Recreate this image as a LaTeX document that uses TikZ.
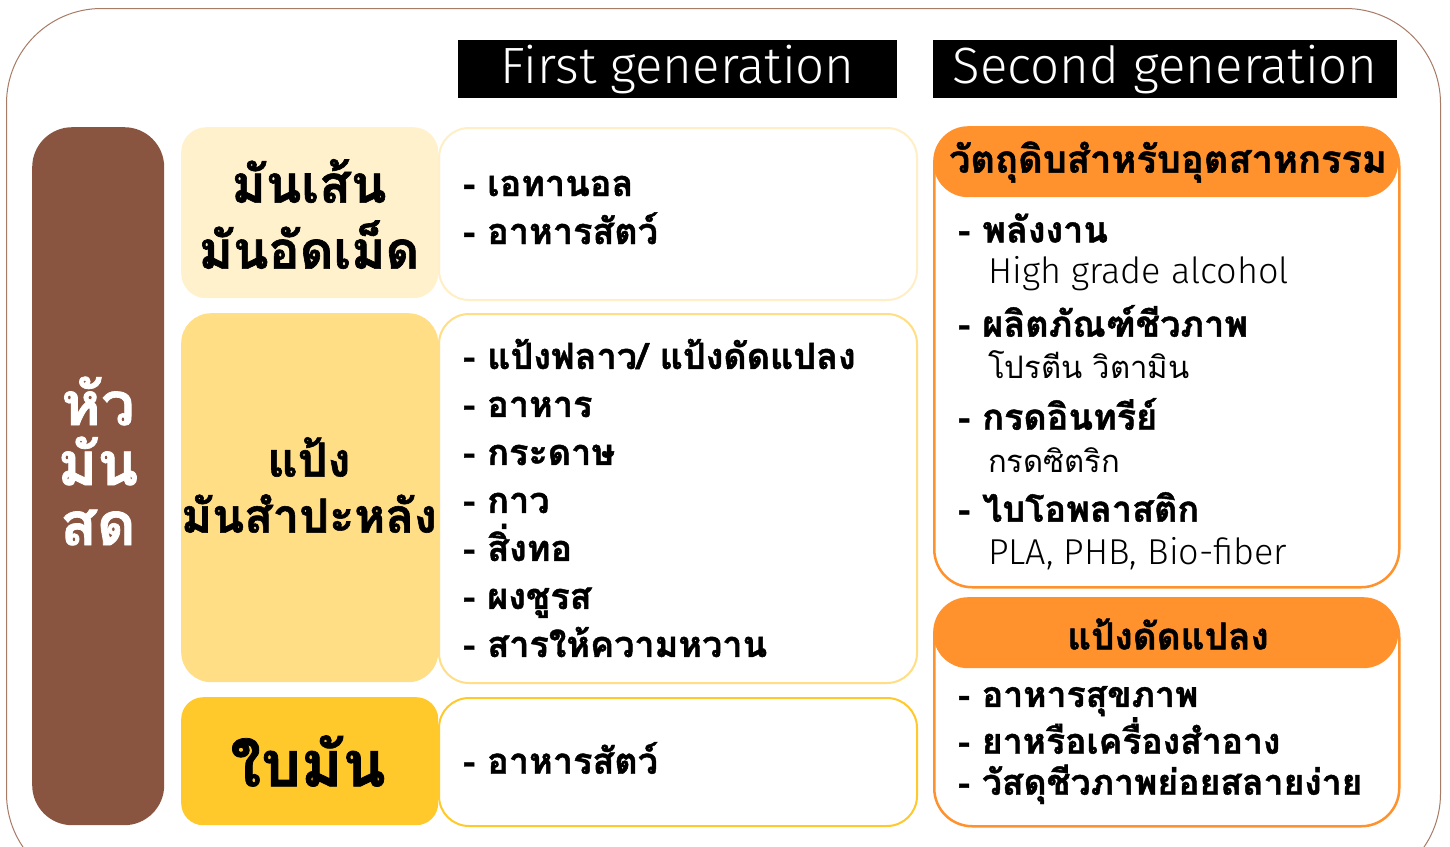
\documentclass[tikz,border=0pt]{standalone}
\usepackage{fontspec}
\newfontfamily\thai[Script=Thai,BoldFeatures={FakeBold=1.2}]{Loma}
\newfontfamily\lightf{Fira Sans Light}
\definecolor{outerbrown}{HTML}{A87B66}
\definecolor{barbrown}{HTML}{8A5540}
\definecolor{creamA}{HTML}{FFF1CC}
\definecolor{creamB}{HTML}{FFDE85}
\definecolor{creamC}{HTML}{FFC92B}
\definecolor{lineA}{HTML}{FFEFC6}
\definecolor{orangeH}{HTML}{FF922D}
\tikzset{
  box/.style={anchor=north west, inner sep=0pt, rounded corners=30pt},
  hdr/.style={box, fill=black, rounded corners=0pt},
  hdrtext/.style={text=white, font=\lightf\fontsize{51}{55}\selectfont},
  big/.style={font=\thai\bfseries\fontsize{44}{58}\selectfont, align=center},
  item/.style={font=\thai\bfseries\fontsize{36}{48}\selectfont, align=left, anchor=west, inner sep=0pt},
  sub/.style={font=\thai\fontsize{31}{40}\selectfont, anchor=west, inner sep=0pt},
  subl/.style={font=\lightf\fontsize{36}{40}\selectfont, anchor=west, inner sep=0pt},
  pilltext/.style={font=\thai\bfseries\fontsize{38}{40}\selectfont},
}
\begin{document}
\begin{tikzpicture}[x=1pt,y=-1pt]
\useasboundingbox (0,0) rectangle (1450,846);
\clip (0,0) rectangle (1450,846);
\fill[white] (0,0) rectangle (1450,846);
\node[box, draw=outerbrown, line width=1pt, rounded corners=95pt, minimum width=1434pt, minimum height=880pt] (outer) at (6,8) {};
% headers
\node[hdr, minimum width=439pt, minimum height=58pt] (h1) at (458,40) {};
\node[hdrtext] (h1t) at (h1.center) {First generation};
\node[hdr, minimum width=464pt, minimum height=58pt] (h2) at (933,40) {};
\node[hdrtext] (h2t) at (h2.center) {Second generation};
% brown bar
\node[box, fill=barbrown, rounded corners=40pt, minimum width=132pt, minimum height=698pt] (bar) at (32,127) {};
\node[big, text=white, font=\thai\bfseries\fontsize{60}{60}\selectfont] (bart) at (98,461) {หัว\\มัน\\สด};
% column 1
\node[box, fill=creamA, rounded corners=25pt, minimum width=257pt, minimum height=171pt] (r1) at (181,127) {};
\node[big, font=\thai\bfseries\fontsize{52}{66}\selectfont] (r1t) at (309,214) {มันเส้น\\มันอัดเม็ด};
\node[box, fill=creamB, rounded corners=30pt, minimum width=257pt, minimum height=369pt] (r2) at (181,313) {};
\node[big, font=\thai\bfseries\fontsize{47}{56}\selectfont] (r2t) at (309,485) {แป้ง\\มันสำปะหลัง};
\node[box, fill=creamC, rounded corners=22pt, minimum width=257pt, minimum height=128pt] (r3) at (181,697) {};
\node[big, font=\thai\bfseries\fontsize{63}{64}\selectfont] (r3t) at (308,761) {ใบมัน};
% column 2
\node[box, draw=lineA, line width=2pt, fill=white, minimum width=478pt, minimum height=172pt] (c1) at (438,127) {};
\node[item] (c1t) at (463,210) {- เอทานอล\\- อาหารสัตว์};
\node[box, draw=creamB, line width=2pt, fill=white, minimum width=478pt, minimum height=369pt] (c2) at (438,313) {};
\node[item] (c2t) at (463,498) {- แป้งฟลาว/ แป้งดัดแปลง\\- อาหาร\\- กระดาษ\\- กาว\\- สิ่งทอ\\- ผงชูรส\\- สารให้ความหวาน};
\node[box, draw=creamC, line width=2pt, fill=white, minimum width=478pt, minimum height=128pt] (c3) at (438,697) {};
\node[item] (c3t) at (463,758) {- อาหารสัตว์};
% column 3 box A
\node[box, draw=orangeH, line width=2.5pt, fill=white, rounded corners=38pt, minimum width=465pt, minimum height=459pt] (sa) at (933,127) {};
\node[box, fill=orangeH, rounded corners=35pt, minimum width=465pt, minimum height=71pt] (sah) at (933,126) {};
\node[pilltext] (saht) at (1168,162) {วัตถุดิบสำหรับอุตสาหกรรม};
\node[item] (a1) at (958,228) {- พลังงาน};
\node[subl] (a1s) at (988,274) {High grade alcohol};
\node[item] (a2) at (958,321) {- ผลิตภัณฑ์ชีวภาพ};
\node[sub] (a2s) at (988,365) {โปรตีน วิตามิน};
\node[item] (a3) at (958,414) {- กรดอินทรีย์};
\node[sub] (a3s) at (988,460) {กรดซิตริก};
\node[item] (a4) at (958,507) {- ไบโอพลาสติก};
\node[subl] (a4s) at (988,554) {PLA, PHB, Bio-fiber};
% column 3 box B
\node[box, draw=orangeH, line width=2.5pt, fill=white, rounded corners=38pt, minimum width=465pt, minimum height=227pt] (sb) at (933,598) {};
\node[box, fill=orangeH, rounded corners=35pt, minimum width=465pt, minimum height=71pt] (sbh) at (933,597) {};
\node[pilltext, font=\thai\bfseries\fontsize{37}{40}\selectfont] (sbht) at (1168,634) {แป้งดัดแปลง};
\node[item, font=\thai\bfseries\fontsize{35.5}{41}\selectfont] (bt) at (958,745) {- อาหารสุขภาพ\\- ยาหรือเครื่องสำอาง\\- วัสดุชีวภาพย่อยสลายง่าย};
\end{tikzpicture}
\end{document}
